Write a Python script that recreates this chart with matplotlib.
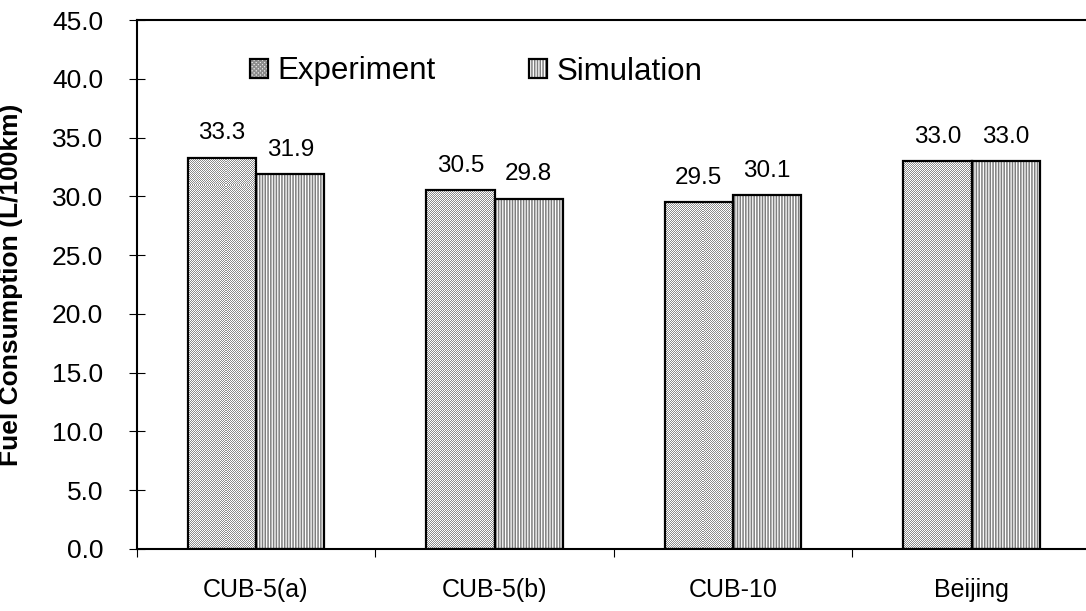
import numpy as np
import matplotlib
matplotlib.use("Agg")
import matplotlib.pyplot as plt
from matplotlib.patches import Patch
from matplotlib.legend_handler import HandlerTuple

# Fuel consumption per driving cycle (L/100km)
categories = ["CUB-5(a)", "CUB-5(b)", "CUB-10", "Beijing"]
experiment = [33.3, 30.5, 29.5, 33.0]
simulation = [31.9, 29.8, 30.1, 33.0]
yticks = [0, 5, 10, 15, 20, 25, 30, 35, 40, 45]
series_names = ["Experiment", "Simulation"]

plt.rcParams['font.family'] = ['Liberation Sans', 'DejaVu Sans']
plt.rcParams['hatch.linewidth'] = 1.1

W, H = 1086, 611
fig = plt.figure(figsize=(W / 100, H / 100), dpi=100)
ax = fig.add_axes([136.75 / W, 62 / H, 954 / W, 529 / H])

x = np.arange(len(categories))
bw = 0.287
edge_lw = 1.6
ax.set_xlim(-0.5, len(categories) - 0.5)
ax.set_ylim(yticks[0], yticks[-1])

# Experiment: outlined bars filled with a fine gray checker texture
exp_bars = ax.bar(x - bw / 2, experiment, bw, facecolor='none',
                  edgecolor='black', linewidth=edge_lw, zorder=3)
bbox = ax.get_window_extent()
nx, ny = int(round(bbox.width)), int(round(bbox.height))
yy, xx = np.mgrid[0:ny, 0:nx]
checker = ((xx + yy) % 2).astype(bool)
tex = np.where(checker[..., None], np.array([1.0, 1.0, 1.0]), np.array([0.55, 0.55, 0.55]))
for b in exp_bars:
    im = ax.imshow(tex, extent=(-0.5, len(categories) - 0.5, yticks[0], yticks[-1]),
                   origin='lower', interpolation='nearest', aspect='auto', zorder=2)
    im.set_clip_path(b)

# Simulation: gray vertical-line hatch with black outline
ax.bar(x + bw / 2, simulation, bw, facecolor='white', edgecolor='#7f7f7f',
       linewidth=0, hatch='||||||', zorder=2)
sim_bars = ax.bar(x + bw / 2, simulation, bw, facecolor='none',
                  edgecolor='black', linewidth=edge_lw, zorder=3)

ax.set_xlim(-0.5, len(categories) - 0.5)
ax.set_ylim(yticks[0], yticks[-1])

for bars in (exp_bars, sim_bars):
    ax.bar_label(bars, fmt='%.1f', padding=9.5, fontsize=17.5)

# Axes styling
for s in ax.spines.values():
    s.set_linewidth(1.5)
    s.set_color('black')

ax.set_yticks(yticks)
ax.set_yticklabels([f"{v:.1f}" for v in yticks], fontsize=19)
ax.tick_params(axis='y', direction='inout', length=11.5, width=0.8, pad=18.5)

ax.set_xticks(np.arange(-0.5, len(categories)), labels=[])
ax.tick_params(axis='x', which='major', direction='out', length=5.8, width=0.8)
ax.set_xticks(x, minor=True)
ax.set_xticklabels(categories, minor=True, fontsize=18)
ax.tick_params(axis='x', which='minor', length=0, pad=21)

ax.set_ylabel("Fuel Consumption (L/100km)", fontsize=19, fontweight='bold')
ax.yaxis.set_label_coords((23 - 136.75) / 954, 0.5)

# Legend: textured swatches with black outlines
exp_fill = Patch(facecolor='#e6e6e6', edgecolor='#8c8c8c', linewidth=0, hatch='xxxxxxxx')
exp_edge = Patch(facecolor='none', edgecolor='black', linewidth=edge_lw)
sim_fill = Patch(facecolor='white', edgecolor='#7f7f7f', linewidth=0, hatch='||||||')
sim_edge = Patch(facecolor='none', edgecolor='black', linewidth=edge_lw)
fig.legend([(exp_fill, exp_edge), (sim_fill, sim_edge)], series_names,
           handler_map={tuple: HandlerTuple(ndivide=1)},
           loc='center left', bbox_to_anchor=(250 / W, 1 - 71.5 / H), ncol=2,
           frameon=False, fontsize=22.5, handlelength=0.58, handleheight=0.6,
           handletextpad=0.29, columnspacing=3.0, borderpad=0, borderaxespad=0)

fig.savefig("out.png", dpi=100)
